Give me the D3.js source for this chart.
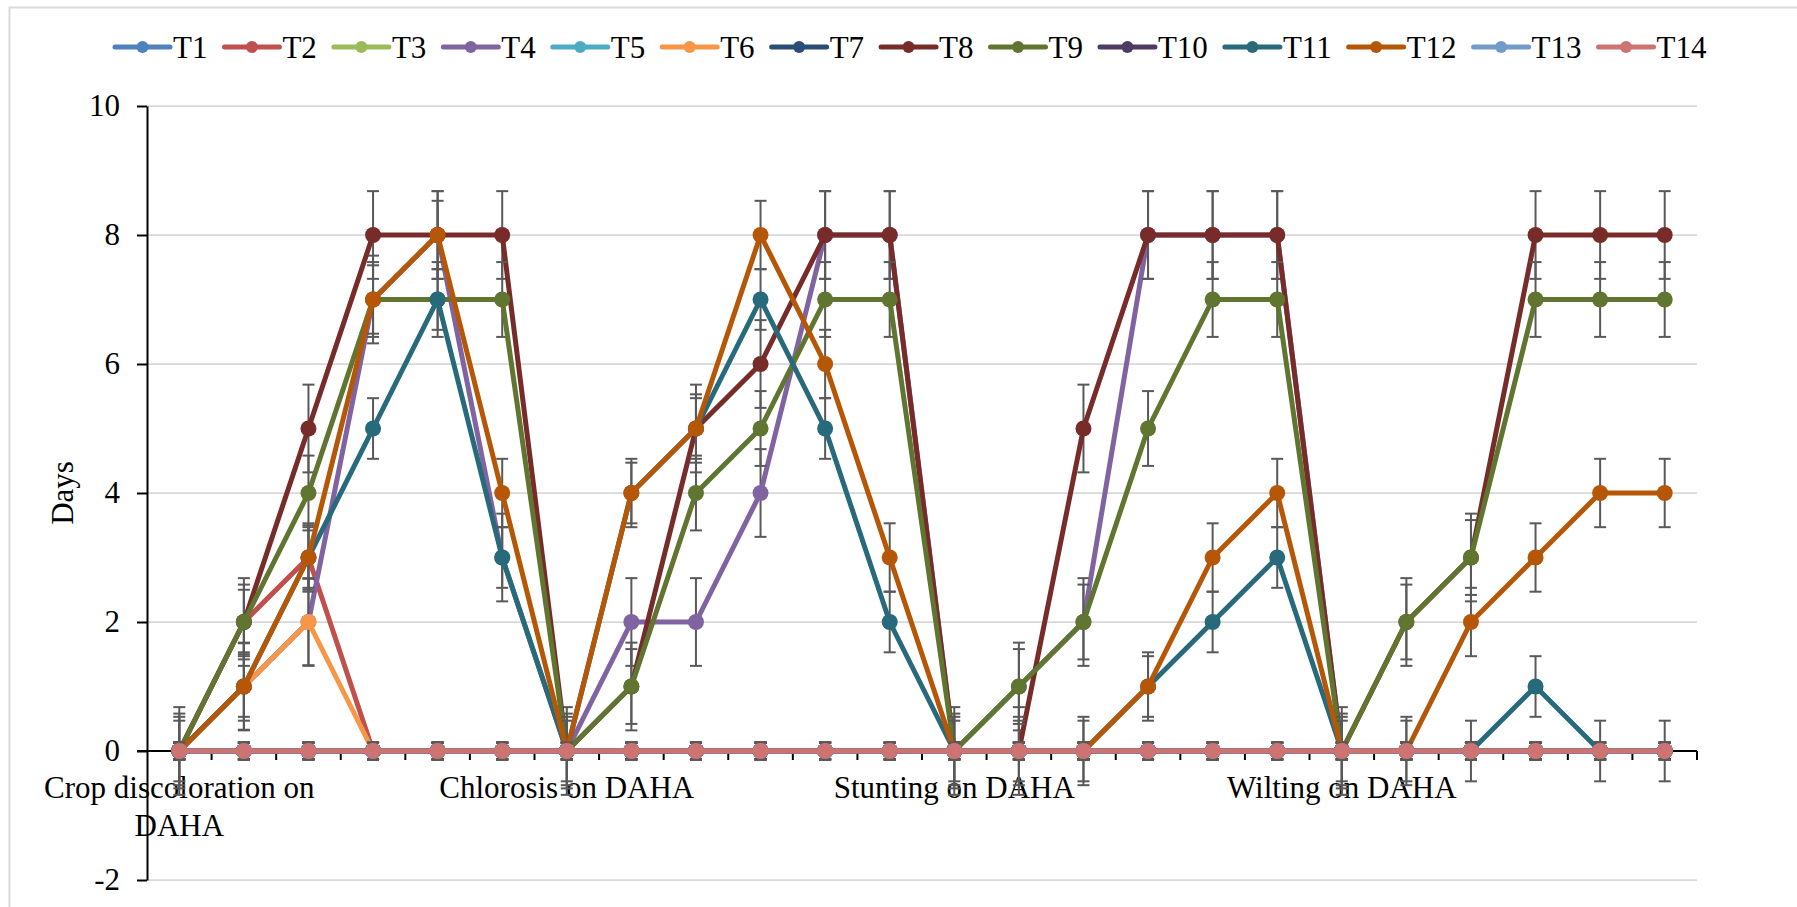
<!DOCTYPE html>
<html>
<head>
<meta charset="utf-8">
<script src="https://cdn.jsdelivr.net/npm/d3@7/dist/d3.min.js"></script>
<style>
body { margin: 0; background: #fff; }
svg text { font-family: "Liberation Serif", "Times New Roman", serif; fill: #000; }
</style>
</head>
<body>
<svg id="chart" width="1797" height="907"></svg>
<script>
// symptom groups, 6 observations each (only the first of each group gets a label)
var symptoms = ["Crop discoloration on DAHA", "Chlorosis on DAHA", "Stunting on DAHA", "Wilting on DAHA"];
var perGroup = 6;

var seriesNames = ["T1","T2","T3","T4","T5","T6","T7","T8","T9","T10","T11","T12","T13","T14"];
var seriesColors = ["#4f81bd","#c0504d","#9bbb59","#8064a2","#4bacc6","#f79646","#2c4d75",
                    "#772c2a","#5f7530","#4d3b62","#276a7c","#b65708","#729aca","#cd7371"];

var zeros = [0,0,0,0,0,0, 0,0,0,0,0,0, 0,0,0,0,0,0, 0,0,0,0,0,0];
var T1  = zeros;
var T2  = [0,2,3,0,0,0, 0,0,0,0,0,0, 0,0,0,0,0,0, 0,0,0,0,0,0];
var T3  = zeros;
var T4  = [0,1,2,7,8,3, 0,2,2,4,8,8, 0,1,2,8,8,8, 0,0,0,0,0,0];
var T5  = zeros;
var T6  = [0,1,2,0,0,0, 0,0,0,0,0,0, 0,0,0,0,0,0, 0,0,0,0,0,0];
var T7  = zeros;
var T8  = [0,2,5,8,8,8, 0,1,5,6,8,8, 0,0,5,8,8,8, 0,2,3,8,8,8];
var T9  = [0,2,4,7,7,7, 0,1,4,5,7,7, 0,1,2,5,7,7, 0,2,3,7,7,7];
var T10 = zeros;
var T11 = [0,1,3,5,7,3, 0,4,5,7,5,2, 0,0,0,1,2,3, 0,0,0,1,0,0];
var T12 = [0,1,3,7,8,4, 0,4,5,8,6,3, 0,0,0,1,3,4, 0,0,2,3,4,4];
var T13 = zeros;
var T14 = zeros;
var seriesValues = [T1,T2,T3,T4,T5,T6,T7,T8,T9,T10,T11,T12,T13,T14];

// error bar half-lengths (same for every point unless an array is given)
var errT2 = [0.13,0.5,0.5,0.13,0.13,0.13, 0.13,0.13,0.13,0.13,0.13,0.13, 0.13,0.13,0.13,0.13,0.13,0.13, 0.13,0.13,0.13,0.13,0.13,0.13];
var errT4 = [0.13,0.68,0.68,0.68,0.68,0.68, 0.13,0.68,0.68,0.68,0.68,0.68, 0.13,0.68,0.68,0.68,0.68,0.68, 0.13,0.13,0.13,0.13,0.13,0.13];
var errT6 = [0.13,0.67,0.67,0.13,0.13,0.13, 0.13,0.13,0.13,0.13,0.13,0.13, 0.13,0.13,0.13,0.13,0.13,0.13, 0.13,0.13,0.13,0.13,0.13,0.13];
var seriesErr = [0.13, errT2, 0.13, errT4, 0.13, errT6, 0.13, 0.68, 0.58, 0.13, 0.47, 0.53, 0.13, 0.13];

var yTicks = [-2, 0, 2, 4, 6, 8, 10];
var yTitle = "Days";

drawChart();

function drawChart() {
    var W = 1797, H = 907;
    var pLeft = 147, pRight = 1697, pTop = 106, pBottom = 880;
    var fontSize = 31;

    var nCat = symptoms.length * perGroup;
    var x = d3.scaleBand().domain(d3.range(nCat)).range([pLeft, pRight]).padding(0);
    var y = d3.scaleLinear().domain([-2, 10]).range([pBottom, pTop]);
    var bw = x.bandwidth();
    function cx(i) { return x(i) + bw / 2; }

    var svg = d3.select("#chart");

    // outer chart frame (only top/left edges fall inside the picture)
    svg.append("rect")
        .attr("x", 9.5).attr("y", 7.5)
        .attr("width", W + 20).attr("height", H + 20)
        .attr("fill", "none").attr("stroke", "#d9d9d9").attr("stroke-width", 2);

    // gridlines
    svg.append("g").selectAll("line.grid")
        .data(yTicks)
        .enter().append("line")
        .attr("class", "grid")
        .attr("x1", pLeft).attr("x2", pRight)
        .attr("y1", function (d) { return y(d); })
        .attr("y2", function (d) { return y(d); })
        .attr("stroke", "#d9d9d9").attr("stroke-width", 1.75);

    // y axis
    var yAxis = svg.append("g")
        .attr("transform", "translate(" + pLeft + ",0)")
        .call(d3.axisLeft(y).tickValues(yTicks).tickSize(10).tickSizeOuter(0).tickPadding(17)
            .tickFormat(function (d) { return String(d); }));
    yAxis.attr("font-family", null).attr("font-size", null);
    yAxis.select(".domain").attr("stroke", "#000").attr("stroke-width", 2);
    yAxis.selectAll(".tick line").attr("stroke", "#000").attr("stroke-width", 2);
    yAxis.selectAll(".tick text")
        .style("font-size", fontSize + "px")
        .attr("fill", "#000");

    // y title
    svg.append("text")
        .attr("transform", "translate(73," + ((pTop + pBottom) / 2) + ") rotate(-90)")
        .attr("text-anchor", "middle")
        .style("font-size", fontSize + "px")
        .text(yTitle);

    // x axis at 0
    var y0 = y(0);
    svg.append("line")
        .attr("x1", pLeft - 10).attr("x2", pRight)
        .attr("y1", y0).attr("y2", y0)
        .attr("stroke", "#000").attr("stroke-width", 2);
    svg.append("g").selectAll("line.xtick")
        .data(d3.range(1, nCat + 1))
        .enter().append("line")
        .attr("class", "xtick")
        .attr("x1", function (i) { return pLeft + i * bw; })
        .attr("x2", function (i) { return pLeft + i * bw; })
        .attr("y1", y0).attr("y2", y0 + 9)
        .attr("stroke", "#000").attr("stroke-width", 2);

    // category labels (first point of each symptom group)
    symptoms.forEach(function (name, g) {
        var px = cx(g * perGroup);
        var t = svg.append("text")
            .attr("x", px).attr("y", y0 + 47)
            .attr("text-anchor", "middle")
            .style("font-size", fontSize + "px");
        t.text(name);
        // wrap like Excel when the label would run past the chart edge
        if (t.node().getComputedTextLength() / 2 > px - 20) {
            var words = name.split(" ");
            var rest = [];
            while (words.length > 1 && t.node().getComputedTextLength() / 2 > px - 20) {
                rest.unshift(words.pop());
                t.text(words.join(" "));
            }
            t.text(null);
            t.append("tspan").attr("x", px).attr("dy", 0).text(words.join(" "));
            t.append("tspan").attr("x", px).attr("dy", 38).text(rest.join(" "));
        }
    });

    // series
    var line = d3.line()
        .x(function (d, i) { return cx(i); })
        .y(function (d) { return y(d); });

    var plot = svg.append("g");
    seriesValues.forEach(function (vals, s) {
        var color = seriesColors[s];
        var err = seriesErr[s];
        var g = plot.append("g").attr("class", "series " + seriesNames[s]);
        function e(i) { return Array.isArray(err) ? err[i] : err; }

        // error bars
        var eb = g.selectAll("g.err")
            .data(vals)
            .enter().append("g")
            .attr("class", "err")
            .attr("stroke", "#595959").attr("stroke-width", 2);
        eb.append("line")
            .attr("x1", function (d, i) { return cx(i); })
            .attr("x2", function (d, i) { return cx(i); })
            .attr("y1", function (d, i) { return y(d + e(i)); })
            .attr("y2", function (d, i) { return y(d - e(i)); });
        eb.append("line")
            .attr("x1", function (d, i) { return cx(i) - 6; })
            .attr("x2", function (d, i) { return cx(i) + 6; })
            .attr("y1", function (d, i) { return y(d + e(i)); })
            .attr("y2", function (d, i) { return y(d + e(i)); });
        eb.append("line")
            .attr("x1", function (d, i) { return cx(i) - 6; })
            .attr("x2", function (d, i) { return cx(i) + 6; })
            .attr("y1", function (d, i) { return y(d - e(i)); })
            .attr("y2", function (d, i) { return y(d - e(i)); });

        g.append("path")
            .datum(vals)
            .attr("d", line)
            .attr("fill", "none")
            .attr("stroke", color)
            .attr("stroke-width", 5)
            .attr("stroke-linejoin", "round");

        g.selectAll("circle")
            .data(vals)
            .enter().append("circle")
            .attr("cx", function (d, i) { return cx(i); })
            .attr("cy", function (d) { return y(d); })
            .attr("r", 8)
            .attr("fill", color);
    });

    // legend
    var legend = svg.append("g").attr("class", "legend");
    var lx = 115, ly = 47;
    seriesNames.forEach(function (name, s) {
        var item = legend.append("g").attr("transform", "translate(" + lx + "," + ly + ")");
        item.append("line")
            .attr("x1", 0).attr("x2", 55).attr("y1", 0).attr("y2", 0)
            .attr("stroke", seriesColors[s]).attr("stroke-width", 5)
            .attr("stroke-linecap", "round");
        item.append("circle")
            .attr("cx", 27.5).attr("cy", 0).attr("r", 6)
            .attr("fill", seriesColors[s]);
        var t = item.append("text")
            .attr("x", 58).attr("y", 0).attr("dy", "0.35em")
            .style("font-size", fontSize + "px")
            .text(name);
        lx += 58 + t.node().getComputedTextLength() + 17;
    });
}
</script>
</body>
</html>
